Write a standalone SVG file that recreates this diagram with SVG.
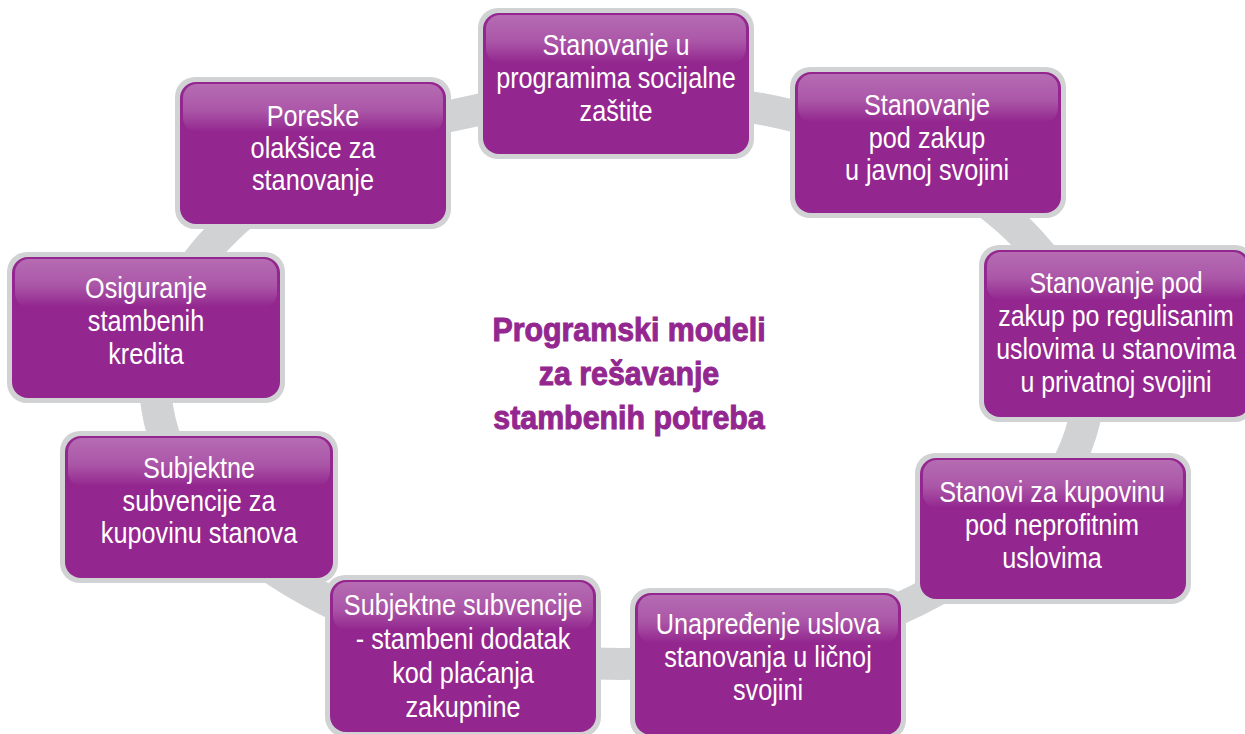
<svg xmlns="http://www.w3.org/2000/svg" width="1245" height="734" viewBox="0 0 1245 734">
<defs>
<linearGradient id="hl" x1="0" y1="0" x2="0" y2="1">
<stop offset="0" stop-color="#ffffff" stop-opacity="0.32"/>
<stop offset="0.55" stop-color="#ffffff" stop-opacity="0.22"/>
<stop offset="1" stop-color="#ffffff" stop-opacity="0"/>
</linearGradient>
</defs>
<style>
.ring{fill:none;stroke:#d1d2d4;stroke-width:32}
.frame{fill:#d1d2d4}
.box{fill:#93278f}
.shine{fill:url(#hl)}
.lbl{font-family:"Liberation Sans",Arial,sans-serif;font-size:29px;fill:#ffffff;text-anchor:middle}
.title{font-family:"Liberation Sans",Arial,sans-serif;font-weight:bold;font-size:33px;fill:#93278f;stroke:#93278f;stroke-width:1;text-anchor:middle}
</style>
<rect width="1245" height="734" fill="#ffffff"/>
<g id="connectors">
<ellipse class="ring" cx="622" cy="380" rx="467" ry="284"/>
</g>
<g id="n1">
<rect class="frame" x="478" y="8" width="276" height="151" rx="20"/>
<rect class="box" x="483" y="13" width="266" height="141" rx="16"/>
<rect class="shine" x="486" y="15" width="260" height="48" rx="14"/>
<g transform="translate(616 0) scale(0.87 1)">
<text class="lbl" x="0" y="55">Stanovanje u</text>
<text class="lbl" x="0" y="88">programima socijalne</text>
<text class="lbl" x="0" y="121">zaštite</text>
</g>
</g>
<g id="n2">
<rect class="frame" x="175" y="77" width="276" height="152" rx="20"/>
<rect class="box" x="180" y="82" width="266" height="142" rx="16"/>
<rect class="shine" x="183" y="84" width="260" height="48" rx="14"/>
<g transform="translate(313 0) scale(0.87 1)">
<text class="lbl" x="0" y="126">Poreske</text>
<text class="lbl" x="0" y="158">olakšice za</text>
<text class="lbl" x="0" y="190">stanovanje</text>
</g>
</g>
<g id="n3">
<rect class="frame" x="7" y="252" width="278" height="151" rx="20"/>
<rect class="box" x="12" y="257" width="268" height="141" rx="16"/>
<rect class="shine" x="15" y="259" width="262" height="48" rx="14"/>
<g transform="translate(146 0) scale(0.87 1)">
<text class="lbl" x="0" y="298">Osiguranje</text>
<text class="lbl" x="0" y="331">stambenih</text>
<text class="lbl" x="0" y="364">kredita</text>
</g>
</g>
<g id="n4">
<rect class="frame" x="60" y="431" width="278" height="152" rx="20"/>
<rect class="box" x="65" y="436" width="268" height="142" rx="16"/>
<rect class="shine" x="68" y="438" width="262" height="48" rx="14"/>
<g transform="translate(199 0) scale(0.87 1)">
<text class="lbl" x="0" y="478">Subjektne</text>
<text class="lbl" x="0" y="511">subvencije za</text>
<text class="lbl" x="0" y="543">kupovinu stanova</text>
</g>
</g>
<g id="n5">
<rect class="frame" x="325" y="575" width="276" height="162" rx="20"/>
<rect class="box" x="330" y="580" width="266" height="152" rx="16"/>
<rect class="shine" x="333" y="582" width="260" height="48" rx="14"/>
<g transform="translate(463 0) scale(0.87 1)">
<text class="lbl" x="0" y="615">Subjektne subvencije</text>
<text class="lbl" x="0" y="649">- stambeni dodatak</text>
<text class="lbl" x="0" y="683">kod plaćanja</text>
<text class="lbl" x="0" y="717">zakupnine</text>
</g>
</g>
<g id="n6">
<rect class="frame" x="630" y="588" width="276" height="152" rx="20"/>
<rect class="box" x="635" y="593" width="266" height="142" rx="16"/>
<rect class="shine" x="638" y="595" width="260" height="48" rx="14"/>
<g transform="translate(768 0) scale(0.87 1)">
<text class="lbl" x="0" y="634">Unapređenje uslova</text>
<text class="lbl" x="0" y="667">stanovanja u ličnoj</text>
<text class="lbl" x="0" y="700">svojini</text>
</g>
</g>
<g id="n7">
<rect class="frame" x="915" y="453" width="276" height="151" rx="20"/>
<rect class="box" x="920" y="458" width="266" height="141" rx="16"/>
<rect class="shine" x="923" y="460" width="260" height="48" rx="14"/>
<g transform="translate(1052 0) scale(0.87 1)">
<text class="lbl" x="0" y="502">Stanovi za kupovinu</text>
<text class="lbl" x="0" y="535">pod neprofitnim</text>
<text class="lbl" x="0" y="568">uslovima</text>
</g>
</g>
<g id="n8">
<rect class="frame" x="979" y="245" width="276" height="177" rx="20"/>
<rect class="box" x="984" y="250" width="266" height="167" rx="16"/>
<rect class="shine" x="987" y="252" width="260" height="48" rx="14"/>
<g transform="translate(1116 0) scale(0.86 1)">
<text class="lbl" x="0" y="293">Stanovanje pod</text>
<text class="lbl" x="0" y="326">zakup po regulisanim</text>
<text class="lbl" x="0" y="359">uslovima u stanovima</text>
<text class="lbl" x="0" y="392">u privatnoj svojini</text>
</g>
</g>
<g id="n9">
<rect class="frame" x="790" y="67" width="276" height="151" rx="20"/>
<rect class="box" x="795" y="72" width="266" height="141" rx="16"/>
<rect class="shine" x="798" y="74" width="260" height="48" rx="14"/>
<g transform="translate(927 0) scale(0.87 1)">
<text class="lbl" x="0" y="115">Stanovanje</text>
<text class="lbl" x="0" y="148">pod zakup</text>
<text class="lbl" x="0" y="180">u javnoj svojini</text>
</g>
</g>
<g id="center" transform="translate(629 0) scale(0.92 1)">
<text class="title" x="0" y="341">Programski modeli</text>
<text class="title" x="0" y="385">za rešavanje</text>
<text class="title" x="0" y="429">stambenih potreba</text>
</g>
</svg>
